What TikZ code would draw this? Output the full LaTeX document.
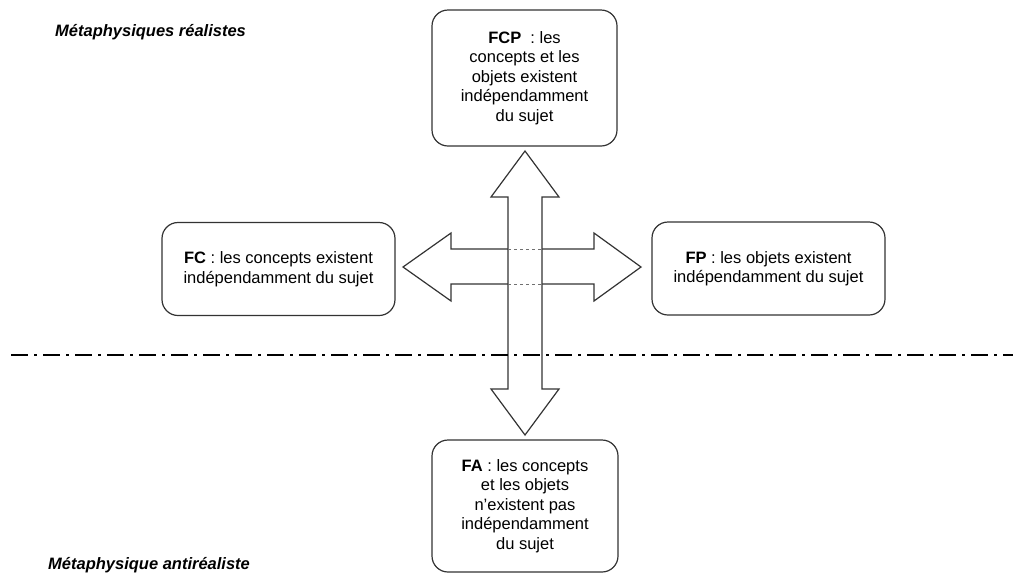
\documentclass[tikz,border=0pt]{standalone}
\usepackage{fontspec}
\setmainfont{Liberation Sans}
\definecolor{trait}{HTML}{333333}
\tikzset{
  boite/.style={draw=trait, line width=1.2pt, rounded corners=16pt, align=center,
    inner sep=0pt, font=\fontsize{16.5}{19.5}\selectfont},
  titre/.style={anchor=west, inner sep=0pt, font=\fontsize{16.5}{19.5}\selectfont\bfseries\itshape},
  fleche/.style={draw=trait, line width=1.2pt, fill=white, line join=miter},
}
\begin{document}
\begin{tikzpicture}[x=1pt, y=-1pt]
            \useasboundingbox (0,0) rectangle (1013,574);

            % les quatre positions
            \node[boite, minimum width=185pt, minimum height=136pt] (fcp) at (524.5,78)
                {\textbf{FCP}\ \ : les\\concepts et les\\objets existent\\indépendamment\\du sujet};
            \node[boite, minimum width=233pt, minimum height=93pt] (fc) at (278.5,269)
                {\textbf{FC} : les concepts existent\\indépendamment du sujet};
            \node[boite, minimum width=233pt, minimum height=93pt] (fp) at (768.5,268.5)
                {\textbf{FP} : les objets existent\\indépendamment du sujet};
            \node[boite, minimum width=186pt, minimum height=132pt] (fa) at (525,506)
                {\textbf{FA} : les concepts\\et les objets\\n'existent pas\\indépendamment\\du sujet};

            \node[titre] (realistes) at (55,32) {Métaphysiques réalistes};
            \node[titre] (antirealiste) at (48,565) {Métaphysique antiréaliste};

            % flèche horizontale
            \draw[fleche] (403,267) -- (451,233) -- (451,249) -- (594,249) -- (594,233)
                -- (641,267) -- (594,301) -- (594,284) -- (451,284) -- (451,301) -- cycle;

            % flèche verticale
            \draw[fleche] (525,151) -- (559,197) -- (542,197) -- (542,389) -- (559,389)
                -- (525,435) -- (491,389) -- (508,389) -- (508,197) -- (491,197) -- cycle;

            \draw[trait!70, line width=1pt, dash pattern=on 3pt off 3pt] (508,249) -- (542,249);
            \draw[trait!70, line width=1pt, dash pattern=on 3pt off 3pt] (508,284) -- (542,284);

            % frontière réalisme / antiréalisme
            \draw[black, line width=2.5pt, dash pattern=on 17pt off 6pt on 2.5pt off 6.5pt]
                (11,355) -- (1013,355);
        \end{tikzpicture}
\end{document}
